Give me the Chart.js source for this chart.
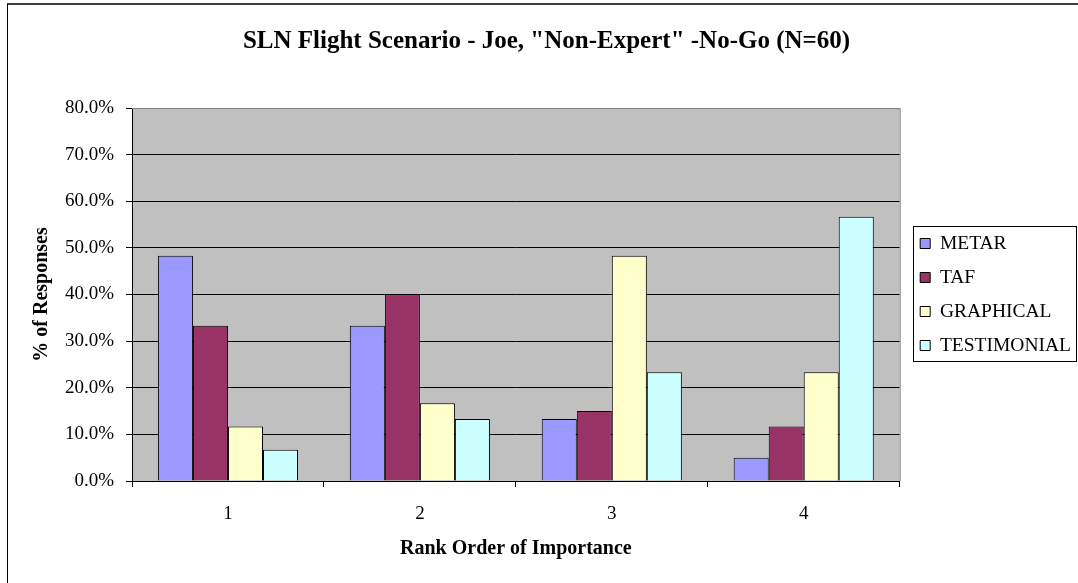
<!DOCTYPE html>
<html>
<head>
<meta charset="utf-8">
<script src="https://cdn.jsdelivr.net/npm/chart.js@4.4.0/dist/chart.umd.min.js"></script>
<style>
  html, body { margin: 0; padding: 0; background: #ffffff; }
  #wrap { width: 1078px; height: 583px; }
</style>
</head>
<body>
<div id="wrap"><canvas id="chart" width="1078" height="583"></canvas></div>
<script>
// Rank order categories and the share of responses (%) for each weather source
const ranks = ['1', '2', '3', '4'];
const metar = [48.3, 33.3, 13.3, 5.0];
const taf = [33.3, 40.0, 15.0, 11.7];
const graphical = [11.7, 16.7, 48.3, 23.3];
const testimonial = [6.7, 13.3, 23.3, 56.7];
const yTicks = [0, 10, 20, 30, 40, 50, 60, 70, 80];

const SERIF = '"Liberation Serif", "Times New Roman", serif';

// Gray plot background, plot border, legend frame and outer chart frame
const framePlugin = {
  id: 'frames',
  afterLayout(chart) {
    // leave a gap between the plot and the legend, and nudge the title right
    const lg = chart.legend;
    if (lg) { lg.left += 6; lg.right += 6; lg.top += 3; lg.bottom += 3; }
    const tb = chart.titleBlock;
    if (tb) { tb.left += 9; tb.right += 9; }
  },
  beforeDraw(chart) {
    const { ctx, chartArea: a } = chart;
    ctx.save();
    ctx.fillStyle = '#ffffff';
    ctx.fillRect(0, 0, chart.width, chart.height);
    ctx.fillStyle = '#c0c0c0';
    ctx.fillRect(a.left, a.top, a.right - a.left, a.bottom - a.top);
    ctx.restore();
  },
  afterDraw(chart) {
    const { ctx, chartArea: a } = chart;
    ctx.save();
    // plot area border
    ctx.strokeStyle = '#808080';
    ctx.lineWidth = 1;
    ctx.beginPath();
    ctx.moveTo(a.left, a.top + 0.5);
    ctx.lineTo(a.right + 0.5, a.top + 0.5);
    ctx.lineTo(a.right + 0.5, a.bottom);
    ctx.stroke();
    // legend frame around the legend entries
    const lg = chart.legend;
    if (lg && lg.legendHitBoxes && lg.legendHitBoxes.length) {
      const hb = lg.legendHitBoxes;
      const centers = hb.map(h => h.top + h.height / 2);
      const top = Math.min(...centers) - 18;
      const bottom = Math.max(...centers) + 15;
      const left = Math.min(...hb.map(h => h.left));
      const x0 = Math.round(left - 7) + 0.5, x1 = 1076.5;
      ctx.strokeStyle = '#000000';
      ctx.strokeRect(x0, Math.round(top) + 0.5, x1 - x0, Math.round(bottom - top));
    }
    // outer chart frame
    ctx.strokeStyle = '#3c3c3c';
    ctx.lineWidth = 2;
    ctx.beginPath();
    ctx.moveTo(7, 4);
    ctx.lineTo(chart.width + 2, 4);
    ctx.stroke();
    ctx.strokeStyle = '#000000';
    ctx.lineWidth = 1;
    ctx.beginPath();
    ctx.moveTo(7.5, 4);
    ctx.lineTo(7.5, chart.height + 2);
    ctx.stroke();
    ctx.restore();
  }
};

function series(label, data, color) {
  return {
    label,
    data,
    backgroundColor: color,
    borderColor: '#000000',
    borderWidth: 1,
    categoryPercentage: 0.73,
    barPercentage: 1.0
  };
}

new Chart(document.getElementById('chart'), {
  type: 'bar',
  data: {
    labels: ranks,
    datasets: [
      series('METAR', metar, '#9999ff'),
      series('TAF', taf, '#993366'),
      series('GRAPHICAL', graphical, '#ffffcc'),
      series('TESTIMONIAL', testimonial, '#ccffff')
    ]
  },
  options: {
    responsive: false,
    animation: false,
    devicePixelRatio: 1,
    layout: { padding: { left: 0, right: 3, top: 0, bottom: 0 } },
    plugins: {
      title: {
        display: true,
        text: 'SLN Flight Scenario - Joe, "Non-Expert" -No-Go (N=60)',
        color: '#000000',
        font: { family: SERIF, size: 25, weight: 'bold' },
        padding: { top: 27, bottom: 51 }
      },
      legend: {
        position: 'right',
        labels: {
          color: '#000000',
          font: { family: SERIF, size: 19.5 },
          boxWidth: 10,
          boxHeight: 10,
          padding: 14.5,
          generateLabels(chart) {
            return chart.data.datasets.map((ds, i) => ({
              text: ds.label,
              fillStyle: ds.backgroundColor,
              strokeStyle: '#000000',
              lineWidth: 1,
              datasetIndex: i,
              hidden: false
            }));
          }
        }
      },
      tooltip: { enabled: false }
    },
    scales: {
      x: {
        afterFit(scale) { scale.height = 102; },
        grid: {
          offset: true,
          drawOnChartArea: false,
          drawTicks: true,
          tickLength: 6,
          tickColor: '#000000'
        },
        border: { display: true, color: '#000000', width: 1 },
        ticks: {
          color: '#000000',
          font: { family: SERIF, size: 19 },
          padding: 16
        },
        title: {
          display: true,
          text: 'Rank Order of Importance',
          color: '#000000',
          font: { family: SERIF, size: 20, weight: 'bold' },
          padding: { top: 0, bottom: 22 }
        }
      },
      y: {
        min: 0,
        max: 80,
        afterFit(scale) { scale.width = 132; },
        afterBuildTicks(scale) {
          scale.ticks = yTicks.map(v => ({ value: v }));
        },
        grid: {
          color: '#000000',
          lineWidth: 1,
          drawTicks: true,
          tickLength: 6,
          tickColor: '#000000'
        },
        border: { display: true, color: '#000000', width: 1 },
        ticks: {
          color: '#000000',
          font: { family: SERIF, size: 19 },
          padding: 12,
          callback: v => v.toFixed(1) + '%'
        },
        title: {
          display: true,
          text: '% of Responses',
          color: '#000000',
          font: { family: SERIF, size: 20, weight: 'bold' },
          padding: { top: 30, bottom: 0 }
        }
      }
    }
  },
  plugins: [framePlugin]
});
</script>
</body>
</html>
